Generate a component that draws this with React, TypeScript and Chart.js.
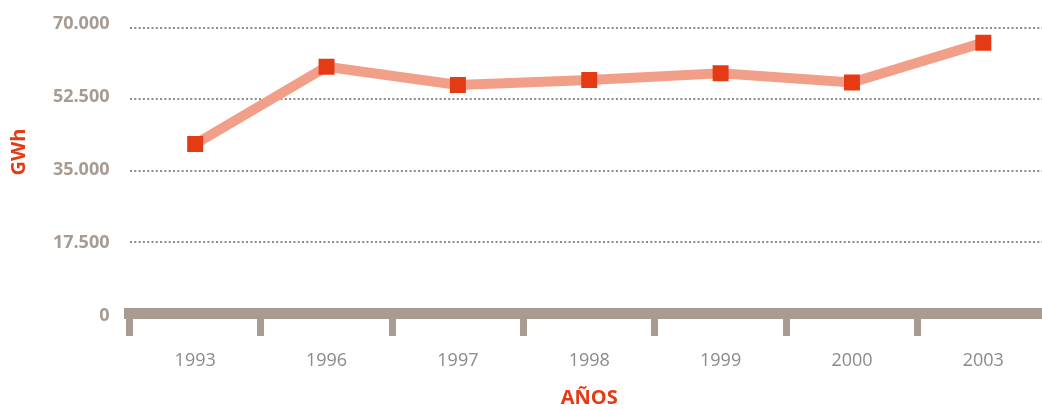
import React, { useEffect, useRef } from "react";
import { Chart, registerables } from "chart.js";

Chart.register(...registerables);

const categories = ["1993", "1996", "1997", "1998", "1999", "2000", "2003"];
const gwhValues = [41500, 60500, 56000, 57200, 58900, 56600, 66400];
const yTickValues = [0, 17500, 35000, 52500, 70000];
const yTickLabels = ["0", "17.500", "35.000", "52.500", "70.000"];
const yAxisTitle = "GWh";
const xAxisTitle = "AÑOS";

const ORANGE = "#E53B14";
const LINE = "#F29F89";
const AXIS = "#A89B92";
const YLABEL = "#A89B92";
const XLABEL = "#8A8A8A";
const GRID = "#8C8C8C";
const FONT = "'Open Sans', 'Noto Sans', sans-serif";

const yTitlePlugin = {
  id: "yTitlePlugin",
  afterDraw(chart: any) {
    const ctx = chart.ctx;
    ctx.save();
    ctx.translate(19, 152);
    ctx.rotate(-Math.PI / 2);
    ctx.font = `bold 20px ${FONT}`;
    ctx.fillStyle = ORANGE;
    ctx.textAlign = "center";
    ctx.textBaseline = "middle";
    ctx.fillText(yAxisTitle, 0, 0);
    ctx.restore();
  },
};

export default function App() {
  const canvasRef = useRef<HTMLCanvasElement | null>(null);

  useEffect(() => {
    if (!canvasRef.current) return;
    const chart = new Chart(canvasRef.current, {
      type: "line",
      data: {
        labels: categories,
        datasets: [
          {
            data: gwhValues,
            yAxisID: "y",
            borderColor: LINE,
            borderWidth: 10,
            tension: 0,
            fill: false,
            pointStyle: "rect",
            pointRadius: 11.3,
            pointHoverRadius: 11.3,
            pointBackgroundColor: ORANGE,
            pointBorderWidth: 0,
            borderJoinStyle: "miter",
          },
        ],
      },
      options: {
        animation: false,
        responsive: true,
        maintainAspectRatio: false,
        layout: { autoPadding: false, padding: { top: 28, left: 0, right: 0, bottom: 0 } },
        plugins: {
          legend: { display: false },
          tooltip: { enabled: false },
        },
        scales: {
          x: {
            type: "category",
            offset: true,
            grid: {
              offset: true,
              display: true,
              drawOnChartArea: false,
              drawTicks: true,
              tickLength: 23,
              tickWidth: 7,
              tickColor: AXIS,
            },
            border: { display: true, color: AXIS, width: 11 },
            ticks: {
              color: XLABEL,
              font: { family: FONT, size: 18 },
              padding: 14,
              maxRotation: 0,
            },
            title: {
              display: true,
              text: xAxisTitle,
              color: ORANGE,
              font: { family: FONT, size: 20, weight: "bold" },
              padding: { top: 0, bottom: 0 },
            },
            afterFit(scale: any) {
              scale.height = 97;
              scale.paddingLeft = 0;
              scale.paddingRight = 0;
            },
          },
          y: {
            position: "left",
            min: 0,
            max: 70000,
            grid: {
              drawTicks: false,
              lineWidth: 2,
              color: (ctx: any) => (ctx.tick && ctx.tick.value === 0 ? "rgba(0,0,0,0)" : GRID),
            },
            border: { display: false, dash: [2, 2.3] },
            ticks: { stepSize: 17500, display: false },
            afterFit(scale: any) {
              scale.width = 0;
              scale.paddingTop = 0;
              scale.paddingBottom = 0;
            },
          },
          yl: {
            position: "left",
            min: 717.9,
            max: 68923.0,
            grid: { display: false, drawTicks: false },
            border: { display: false },
            afterBuildTicks(scale: any) {
              scale.ticks = yTickValues.map((v) => ({ value: v }));
            },
            ticks: {
              color: YLABEL,
              font: { family: FONT, size: 18, weight: "bold" },
              padding: 20,
              callback: (_v: any, i: number) => yTickLabels[i],
            },
            afterFit(scale: any) {
              scale.width = 129.5;
              scale.paddingTop = 0;
              scale.paddingBottom = 0;
            },
          },
        },
      },
      plugins: [yTitlePlugin],
    });
    return () => chart.destroy();
  }, []);

  return (
    <div
      style={{
        position: "fixed",
        left: 0,
        top: 0,
        width: 1042,
        height: 410,
        overflow: "hidden",
        background: "#fff",
      }}
    >
      <div style={{ position: "relative", width: 1049, height: 410 }}>
        <canvas ref={canvasRef} />
      </div>
    </div>
  );
}
